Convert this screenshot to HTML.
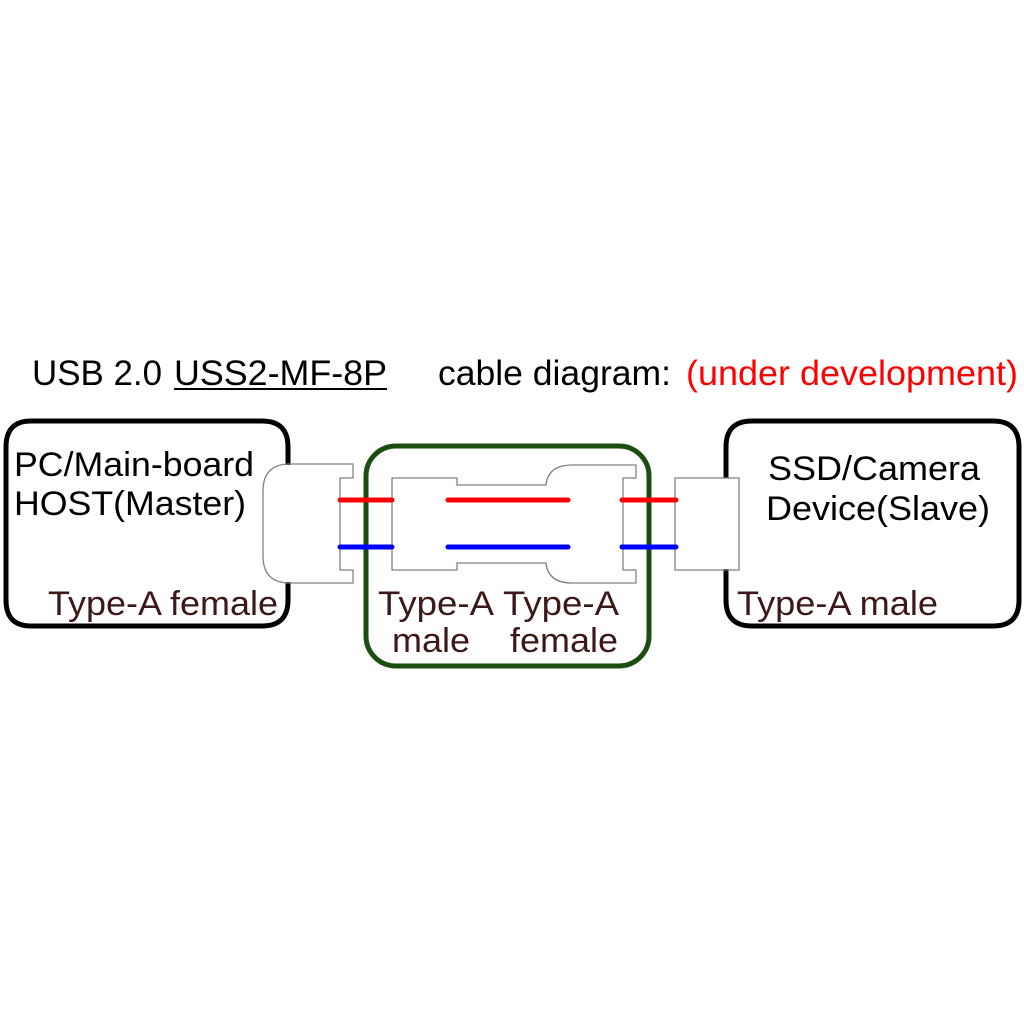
<!DOCTYPE html>
<html><head><style>body{margin:0;background:#fff}svg{display:block}text{font-family:"Liberation Sans",Arial,sans-serif}</style></head><body>
<svg width="1024" height="1024" viewBox="0 0 1024 1024" xmlns="http://www.w3.org/2000/svg">
<rect width="1024" height="1024" fill="#fff"/>
<text x="32" y="385" font-size="35" textLength="130" lengthAdjust="spacingAndGlyphs">USB 2.0</text>
<text x="174" y="385" font-size="35" textLength="213" lengthAdjust="spacingAndGlyphs">USS2-MF-8P</text>
<line x1="174" y1="389" x2="387" y2="389" stroke="#000" stroke-width="2"/>
<text x="438" y="385" font-size="35" textLength="233" lengthAdjust="spacingAndGlyphs">cable diagram:</text>
<text x="686" y="385" font-size="35" fill="#f00" textLength="332" lengthAdjust="spacingAndGlyphs">(under development)</text>

<path d="M288 465 V447 Q288 421 262 421 H31 Q6 421 6 447 V600 Q6 626 31 626 H262 Q288 626 288 600 V582" fill="none" stroke="#000" stroke-width="5"/>
<path d="M726 478 V447 Q726 421 752 421 H993 Q1019 421 1019 447 V600 Q1019 626 993 626 H752 Q726 626 726 600 V569" fill="none" stroke="#000" stroke-width="5"/>
<rect x="366" y="446" width="283" height="220" rx="30" fill="none" stroke="#1b4d0e" stroke-width="5"/>

<path d="M290 464 H353 V478 H340 V570 H353 V583 H290 Q263 583 263 556 V491 Q263 464 290 464 Z" fill="none" stroke="#8a7f7f" stroke-width="1.3"/>
<path d="M392 478 H457 V485 H546 Q548 465 572 465 H636 V478 H623 V570 H636 V583 H572 Q548 583 546 563 H457 V570 H392 Z" fill="none" stroke="#8a7f7f" stroke-width="1.3"/>
<rect x="675" y="478" width="64" height="92" fill="none" stroke="#8a7f7f" stroke-width="1.3"/>

<g stroke-width="5" stroke-linecap="round">
<line x1="340" y1="500" x2="392" y2="500" stroke="#f00"/>
<line x1="448" y1="500" x2="568" y2="500" stroke="#f00"/>
<line x1="622" y1="500" x2="676" y2="500" stroke="#f00"/>
<line x1="340" y1="547" x2="392" y2="547" stroke="#00f"/>
<line x1="448" y1="547" x2="568" y2="547" stroke="#00f"/>
<line x1="622" y1="547" x2="676" y2="547" stroke="#00f"/>
</g>

<text x="14" y="476" font-size="34" textLength="240" lengthAdjust="spacingAndGlyphs">PC/Main-board</text>
<text x="14" y="515" font-size="34" textLength="232" lengthAdjust="spacingAndGlyphs">HOST(Master)</text>
<text x="768" y="480" font-size="34" textLength="212" lengthAdjust="spacingAndGlyphs">SSD/Camera</text>
<text x="766" y="520" font-size="34" textLength="224" lengthAdjust="spacingAndGlyphs">Device(Slave)</text>
<g fill="#3d1818" font-size="34">
<text x="48" y="615" textLength="230" lengthAdjust="spacingAndGlyphs">Type-A female</text>
<text x="378" y="615" textLength="116" lengthAdjust="spacingAndGlyphs">Type-A</text>
<text x="392" y="652" textLength="78" lengthAdjust="spacingAndGlyphs">male</text>
<text x="503" y="615" textLength="116" lengthAdjust="spacingAndGlyphs">Type-A</text>
<text x="510" y="652" textLength="108" lengthAdjust="spacingAndGlyphs">female</text>
<text x="737" y="615" textLength="201" lengthAdjust="spacingAndGlyphs">Type-A male</text>
</g>
</svg>
</body></html>
